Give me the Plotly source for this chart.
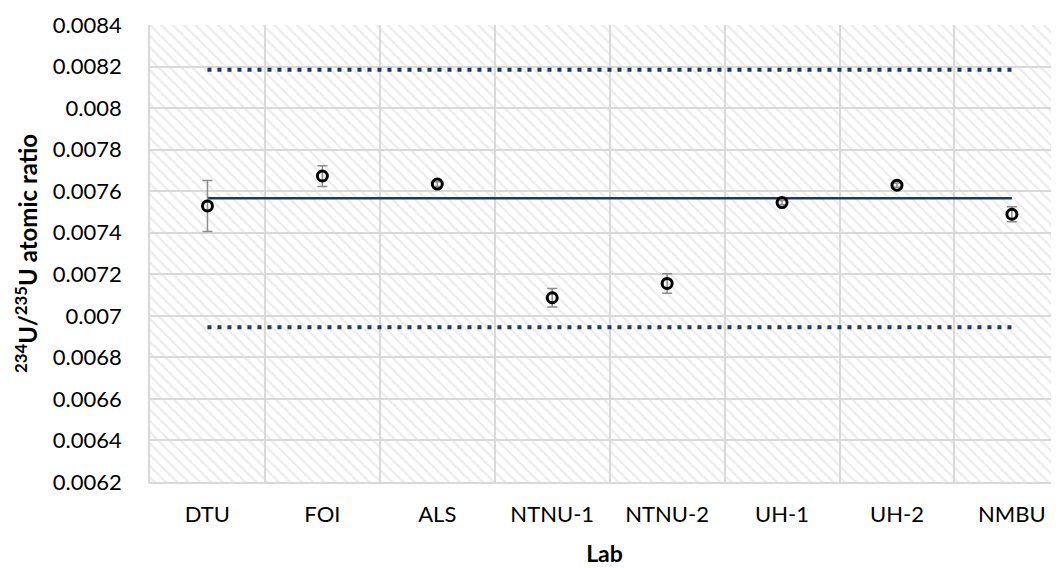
import plotly.graph_objects as go

# data
labs = ["DTU", "FOI", "ALS", "NTNU-1", "NTNU-2", "UH-1", "UH-2", "NMBU"]
ratio = [0.007529, 0.007673, 0.007634, 0.007087, 0.007156, 0.007545, 0.007629, 0.007489]
ratio_err = [0.000123, 0.000050, 0.000012, 0.000044, 0.000047, 0.000010, 0.000010, 0.000036]
mean_value = 0.007566
upper_limit = 0.008185
lower_limit = 0.006945

y_min, y_max = 0.0062, 0.0084
y_ticks = [round(0.0062 + 0.0002 * i, 4) for i in range(12)]

pos = list(range(len(labs)))
navy = "#1f3864"
grid = "#d9d9d9"
font = "Lato"

fig = go.Figure()

# hatched plot background
fig.add_trace(go.Bar(
    x=pos, y=[y_max - y_min] * len(labs), base=y_min, width=1,
    marker=dict(color="rgba(0,0,0,0)", line_width=0,
                pattern=dict(shape="\\", fgcolor="#dadada", bgcolor="rgba(0,0,0,0)",
                             size=8, solidity=0.3)),
    hoverinfo="skip", showlegend=False))

# mean and limits
fig.add_trace(go.Scatter(x=pos, y=[mean_value] * len(labs), mode="lines",
                         line=dict(color=navy, width=2.5), showlegend=False))
for lim in (upper_limit, lower_limit):
    fig.add_trace(go.Scatter(x=pos, y=[lim] * len(labs), mode="lines",
                             line=dict(color=navy, width=4, dash="4px,6px"),
                             showlegend=False))

# lab results
fig.add_trace(go.Scatter(
    x=pos, y=ratio, mode="markers",
    marker=dict(symbol="circle-open", size=10, color="black", line=dict(width=3, color="black")),
    error_y=dict(type="data", array=ratio_err, color="#8c8c8c", thickness=1.5, width=5),
    showlegend=False))

# the page body adds 8px at top/left, so margins are trimmed to match
fig.update_layout(
    width=1059, height=568,
    margin=dict(l=142, r=8, t=17, b=94),
    paper_bgcolor="white", plot_bgcolor="white",
    font=dict(family=font, size=22, color="black"),
    bargap=0,
)
fig.update_xaxes(
    automargin=False,
    range=[-0.5, 7.41], tickvals=pos, ticktext=labs, showgrid=False, zeroline=False,
    ticks="outside", ticklen=12, tickcolor="rgba(0,0,0,0)",
    showline=True, linecolor=grid, linewidth=1.5,
    minor=dict(tickvals=[p - 0.5 for p in pos] + [len(labs) - 0.5], showgrid=True,
               gridcolor=grid, gridwidth=1.5, ticks=""),
    title=dict(text="<b>Lab</b>", font=dict(size=23), standoff=20),
)
fig.update_yaxes(
    automargin=False,
    range=[y_min, y_max], tickvals=y_ticks, tickformat=".4~f",
    showgrid=True, gridcolor=grid, gridwidth=1.5, zeroline=False,
    ticks="outside", ticklen=22, tickcolor="rgba(0,0,0,0)",
    showline=True, linecolor=grid, linewidth=1.5,
    title=dict(text="<b><sup>234</sup>U/<sup>235</sup>U atomic ratio</b>", font=dict(size=24), standoff=8),
)

fig.write_html("out.html")
